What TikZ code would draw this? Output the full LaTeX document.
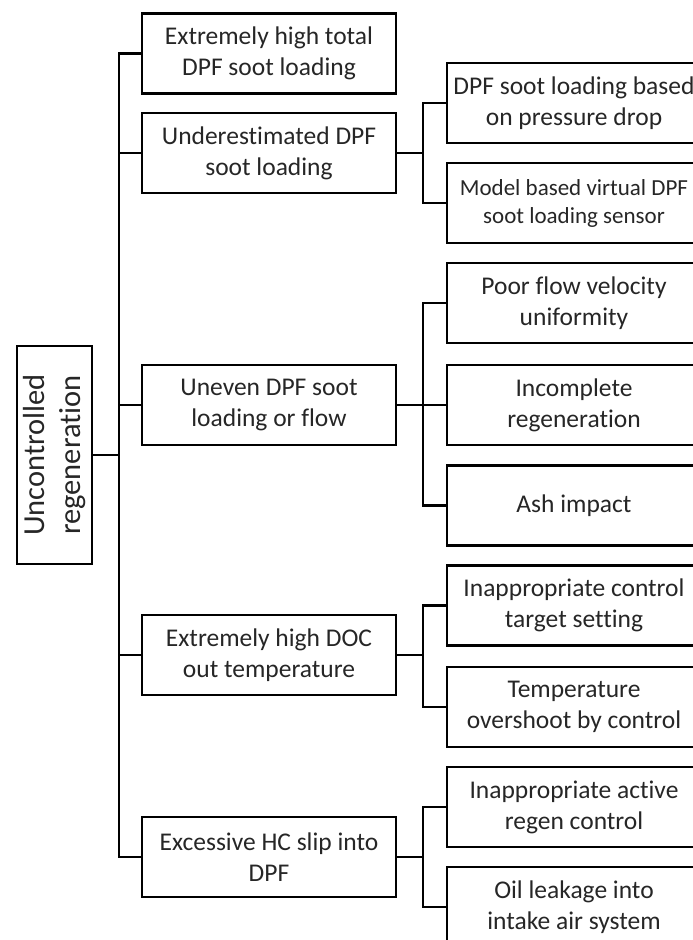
\documentclass[tikz,border=0pt]{standalone}
\usepackage{fontspec}
\setmainfont[Ligatures=NoCommon]{Carlito}
\tikzset{
  cause/.style={draw, line width=2.2pt, minimum width=254pt, minimum height=80pt,
    inner sep=0pt, align=center, font=\fontsize{25.5}{31}\selectfont},
  top/.style={draw, line width=2.2pt, rotate=90, minimum width=218pt,
    minimum height=75pt, inner sep=0pt, align=center,
    font=\fontsize{30.5}{36}\selectfont},
}
\begin{document}
\begin{tikzpicture}[x=1pt, y=-1pt, line width=2.2pt, text=black!85]
    % page frame
    \useasboundingbox (0,0) rectangle (693,940);
    \clip (0,0) rectangle (693,940);
    % root
    \node [top] (U) at (54.5,455) {Uncontrolled\\regeneration};
    % first level
    \node [cause] (A1) at (269,53.5) {Extremely high total\\DPF soot loading};
    \node [cause] (A2) at (269,153) {Underestimated DPF\\soot loading};
    \node [cause] (A3) at (269,405) {Uneven DPF soot\\loading or flow};
    \node [cause] (A4) at (269,655) {Extremely high DOC\\out temperature};
    \node [cause] (A5) at (269,857) {Excessive HC slip into\\DPF};
    % second level
    \node [cause] (B1) at (574,103) {DPF soot loading based\\on pressure drop};
    \node [cause,font=\fontsize{23}{28}\selectfont] (B2) at (574,203) {Model based virtual DPF\\soot loading sensor};
    \node [cause] (C1) at (574,303) {Poor flow velocity\\uniformity};
    \node [cause] (C2) at (574,405) {Incomplete\\regeneration};
    \node [cause] (C3) at (574,505.5) {Ash impact};
    \node [cause] (D1) at (574,605.5) {Inappropriate control\\target setting};
    \node [cause] (D2) at (574,707) {Temperature\\overshoot by control};
    \node [cause] (E1) at (574,807) {Inappropriate active\\regen control};
    \node [cause] (E2) at (574,907) {Oil leakage into\\intake air system};
    % connectors
    \draw (U.south) -- ++(26,0) |- (A1.west);
    \draw (U.south) -- ++(26,0) |- (A2.west);
    \draw (U.south) -- ++(26,0) |- (A3.west);
    \draw (U.south) -- ++(26,0) |- (A4.west);
    \draw (U.south) -- ++(26,0) |- (A5.west);
    \draw (A2.east) -- ++(26,0) |- (B1.west);
    \draw (A2.east) -- ++(26,0) |- (B2.west);
    \draw (A3.east) -- ++(26,0) |- (C1.west);
    \draw (A3.east) -- ++(26,0) |- (C2.west);
    \draw (A3.east) -- ++(26,0) |- (C3.west);
    \draw (A4.east) -- ++(26,0) |- (D1.west);
    \draw (A4.east) -- ++(26,0) |- (D2.west);
    \draw (A5.east) -- ++(26,0) |- (E1.west);
    \draw (A5.east) -- ++(26,0) |- (E2.west);
\end{tikzpicture}
\end{document}
